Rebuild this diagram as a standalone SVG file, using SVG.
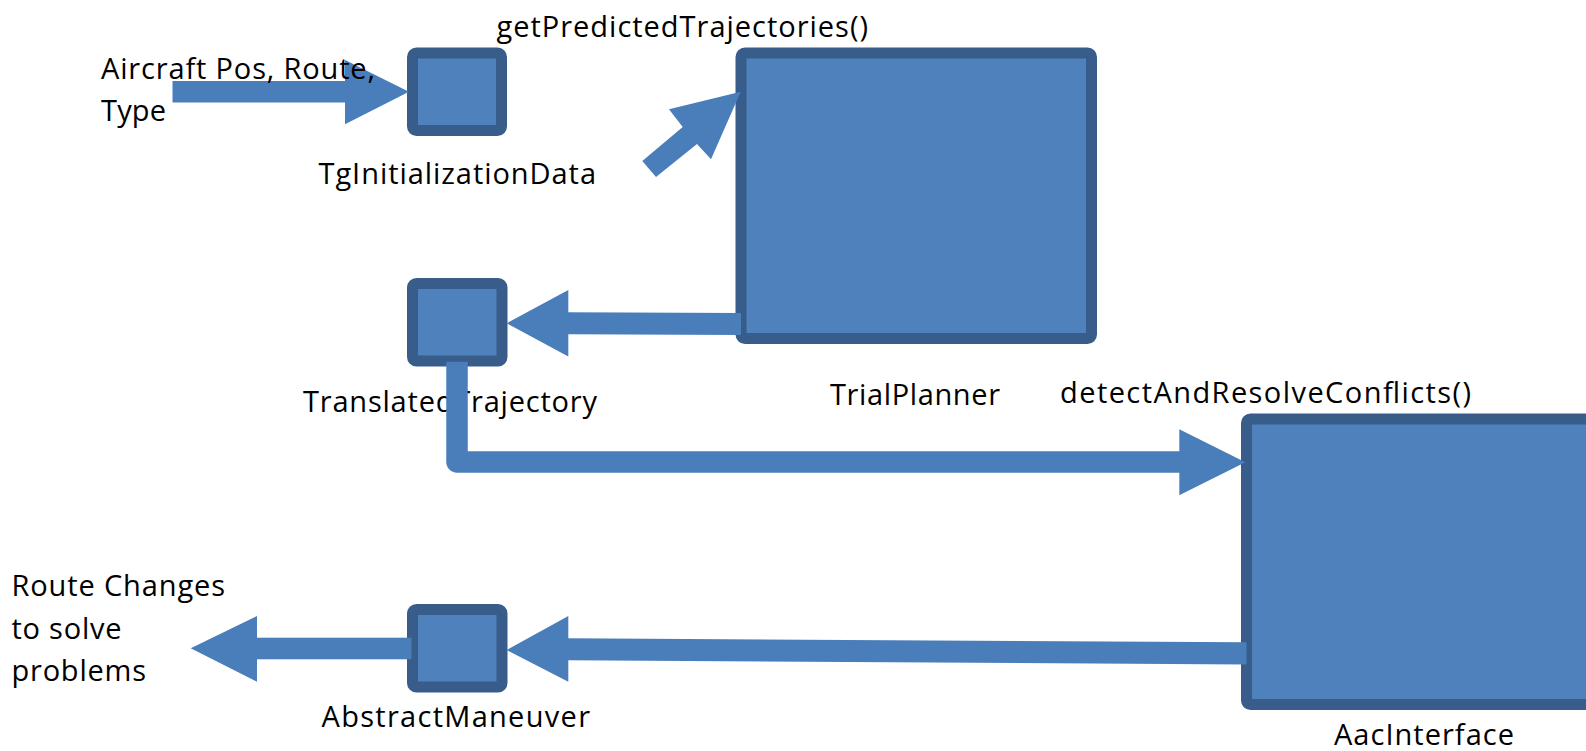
<svg xmlns="http://www.w3.org/2000/svg" width="1586" height="751" viewBox="0 0 1586 751">
  <style>
    .node { fill: #4f81bd; stroke: #385d8a; stroke-width: 11; }
    .arrow { fill: #4a7ebb; stroke: none; }
    .wire { fill: none; stroke: #4a7ebb; stroke-width: 21.5; stroke-linejoin: round; stroke-linecap: butt; }
    .label { font-family: "Open Sans", "Liberation Sans", sans-serif; font-size: 29px; fill: #000; }
  </style>
  <rect width="1586" height="751" fill="#ffffff"/>

  <!-- labels that sit beneath the connectors -->
  <g id="labels-under">
    <text class="label" x="303" y="411.5" textLength="294" lengthAdjust="spacing">TranslatedTrajectory</text>
  </g>

  <g id="node-tg-initialization-data">
    <rect class="node" x="412.5" y="53" width="89" height="77.5" rx="4"/>
    <text class="label" x="318.5" y="184" textLength="277.5" lengthAdjust="spacing">TgInitializationData</text>
  </g>

  <g id="node-trial-planner">
    <rect class="node" x="741" y="53" width="350.5" height="285.5" rx="4"/>
    <text class="label" x="496.5" y="37" textLength="371.5" lengthAdjust="spacing">getPredictedTrajectories()</text>
    <text class="label" x="830" y="405" textLength="170" lengthAdjust="spacing">TrialPlanner</text>
  </g>

  <g id="node-translated-trajectory">
    <rect class="node" x="412.5" y="283.5" width="89.5" height="77.5" rx="4"/>
  </g>

  <g id="node-aac-interface">
    <rect class="node" x="1246.5" y="419" width="400" height="285.5" rx="4"/>
    <text class="label" x="1060" y="403" textLength="411" lengthAdjust="spacing">detectAndResolveConflicts()</text>
    <text class="label" x="1334" y="744.5" textLength="180" lengthAdjust="spacing">AacInterface</text>
  </g>

  <g id="node-abstract-maneuver">
    <rect class="node" x="412.5" y="609.5" width="89.5" height="77.5" rx="4"/>
    <text class="label" x="321.5" y="726.5" textLength="268.5" lengthAdjust="spacing">AbstractManeuver</text>
  </g>

  <g id="connectors">
    <!-- aircraft input into TgInitializationData -->
    <rect class="arrow" x="172.5" y="81" width="173" height="21.5"/>
    <polygon class="arrow" points="345,60 409,91.7 345,124.3"/>

    <!-- TgInitializationData feeding TrialPlanner -->
    <polygon class="arrow" points="656,177 697,144 711,159.3 740.7,91.7 669,109.3 682.7,127 642.3,161"/>

    <!-- TrialPlanner back to TranslatedTrajectory -->
    <polygon class="arrow" points="568,312.3 741,313 741,335 568,334.3"/>
    <polygon class="arrow" points="568.3,290 506.7,323.3 568.3,356.5"/>

    <!-- TranslatedTrajectory elbow into AacInterface -->
    <path class="wire" d="M457,361.7 L457,462 L1180,462"/>
    <polygon class="arrow" points="1179.3,429.3 1245.4,462.3 1179.3,495.3"/>

    <!-- AacInterface back to AbstractManeuver -->
    <polygon class="arrow" points="568,638.3 1246.5,642.3 1246.5,664.5 568,660.3"/>
    <polygon class="arrow" points="568.3,616 506.7,650 568.3,681.7"/>

    <!-- AbstractManeuver output -->
    <rect class="arrow" x="256.5" y="637.7" width="155" height="21.6"/>
    <polygon class="arrow" points="257,616 190.7,648.3 257,681.7"/>
  </g>

  <!-- free-standing input/output labels -->
  <g id="labels-over">
    <text class="label" x="101" y="79" textLength="274" lengthAdjust="spacing">Aircraft Pos, Route,</text>
    <text class="label" x="101" y="121" textLength="65" lengthAdjust="spacing">Type</text>
    <text class="label" x="11.5" y="596" textLength="213.5" lengthAdjust="spacing">Route Changes</text>
    <text class="label" x="11.5" y="639.3" textLength="110" lengthAdjust="spacing">to solve</text>
    <text class="label" x="11.5" y="681" textLength="134.5" lengthAdjust="spacing">problems</text>
  </g>
</svg>
